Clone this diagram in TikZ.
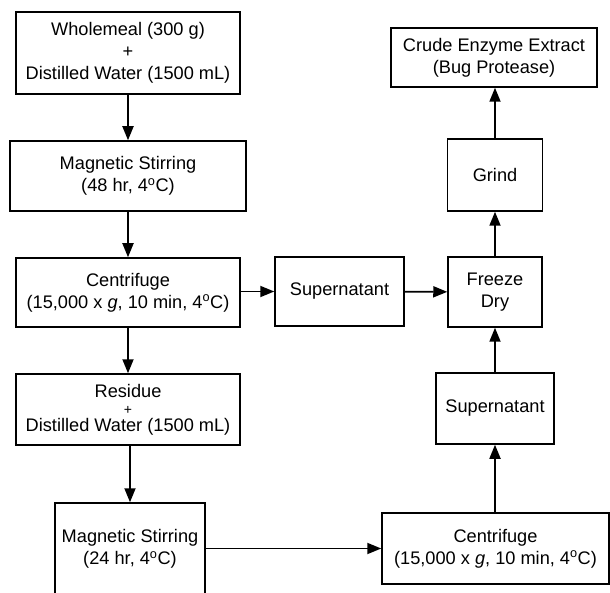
\documentclass[tikz,border=0pt]{standalone}
\usepackage{fontspec}
\setmainfont{Liberation Sans}
\usetikzlibrary{arrows.meta}
\tikzset{
  stepbox/.style={draw, line width=1.5pt, align=center, inner sep=0pt},
  flow/.style={-{Triangle[length=14pt,width=11pt]}, line width=1.8pt},
}
\newcommand{\degc}{4\textsuperscript{o}C}
\begin{document}
\begin{tikzpicture}[x=1pt, y=-1pt, font=\fontsize{18.2}{22}\selectfont, line join=miter]
		\useasboundingbox (0,0) rectangle (610,593);
		\clip (0,0) rectangle (610,593);
		%left column
		\node[stepbox, minimum width=224, minimum height=82] (wm) at (128,53) {Wholemeal (300 g)\\+\\Distilled Water (1500 mL)};
		\node[stepbox, minimum width=236, minimum height=70] (ms1) at (128,176) {Magnetic Stirring\\(48 hr, \degc)};
		\node[stepbox, minimum width=224, minimum height=69] (cf1) at (128,292.5) {Centrifuge\\(15,000 x \textit{g}, 10 min, \degc)};
		\node[stepbox, minimum width=224, minimum height=71] (res) at (128,409.5) {Residue\\[-5pt]{\fontsize{14}{14}\selectfont +}\\[-5pt]Distilled Water (1500 mL)};
		\node[stepbox, minimum width=150, minimum height=92] (ms2) at (130,549) {Magnetic Stirring\\(24 hr, \degc)};
		%right column
		\node[stepbox, minimum width=129, minimum height=69] (sup1) at (339.5,291.5) {Supernatant};
		\node[stepbox, minimum width=94, minimum height=70] (fd) at (495,292) {Freeze\\Dry};
		\node[stepbox, minimum width=95, minimum height=72] (gr) at (495,175) {Grind};
		\node[stepbox, minimum width=206, minimum height=59] (crude) at (494,57.5) {Crude Enzyme Extract\\(Bug Protease)};
		\node[stepbox, minimum width=118, minimum height=71] (sup2) at (495,408.5) {Supernatant};
		\node[stepbox, minimum width=227, minimum height=71] (cf2) at (495.5,548.5) {Centrifuge\\(15,000 x \textit{g}, 10 min, \degc)};
		%arrows
		\draw[flow] (wm)--(ms1);
		\draw[flow] (ms1)--(cf1);
		\draw[flow] (cf1)--(res);
		\draw[flow] (res.south -| ms2)--(ms2.north);
		\draw[flow] (ms2.east |- cf2)--(cf2.west);
		\draw[flow] (cf2.north -| sup2)--(sup2.south);
		\draw[flow] (sup2)--(fd);
		\draw[flow] (cf1.east |- sup1)--(sup1.west);
		\draw[flow] (sup1)--(fd);
		\draw[flow] (fd)--(gr);
		\draw[flow] (gr.north)--(gr.north |- crude.south);
\end{tikzpicture}
\end{document}
